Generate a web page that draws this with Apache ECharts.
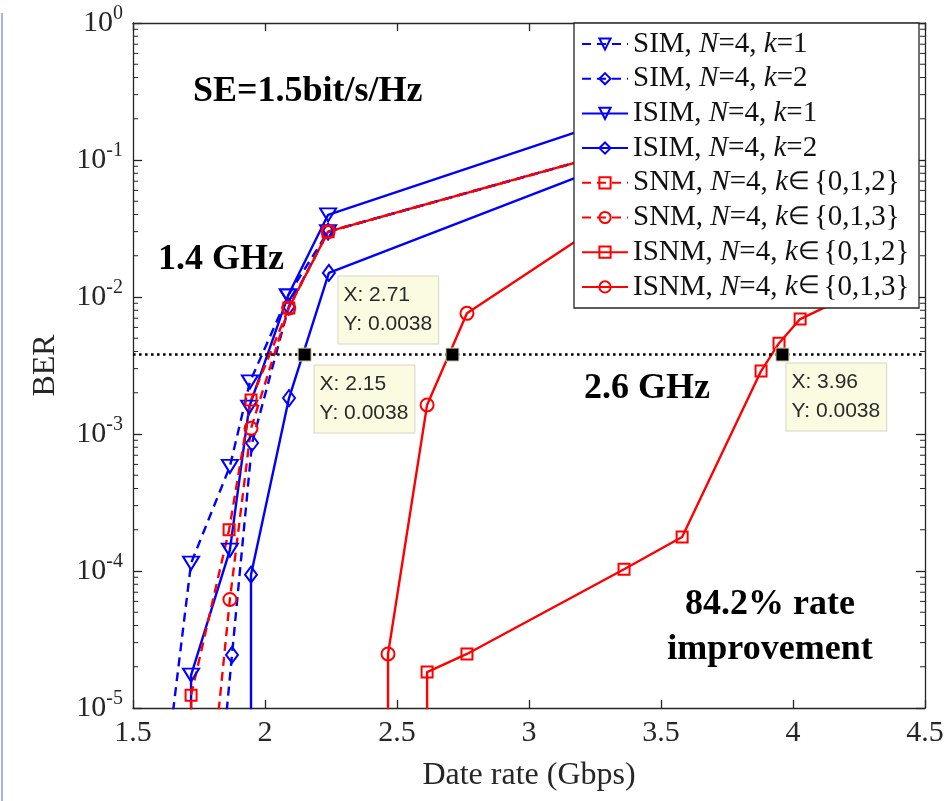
<!DOCTYPE html>
<html>
<head>
<meta charset="utf-8">
<script src="https://cdn.jsdelivr.net/npm/echarts@6/dist/echarts.min.js"></script>
<style>
  html, body { margin: 0; padding: 0; background: #fff; }
  #chart { width: 948px; height: 801px; }
</style>
</head>
<body>
<div id="chart"></div>
<script>
// data rate (Gbps) / BER
// points below 1e-5 or under the legend only give the line its direction
var simK1X = [1.59, 1.72, 1.867, 1.943, 2.087, 2.239, 3.5];
var simK1Y = [1e-6, 1.14e-4, 5.8e-4, 2.4e-3, 1.02e-2, 0.03, 0.143];

var simK2X = [1.807, 1.875, 1.951, 2.09, 2.239, 3.5];
var simK2Y = [1e-6, 2.44e-5, 8.6e-4, 8.5e-3, 0.03, 0.143];

var isimK1X = [1.72, 1.72, 1.867, 1.94, 2.087, 2.239, 3.5];
var isimK1Y = [1e-6, 1.74e-5, 1.42e-4, 1.57e-3, 1.02e-2, 0.0398, 0.257];

var isimK2X = [1.947, 1.947, 2.091, 2.242, 3.5];
var isimK2Y = [1e-6, 9.4e-5, 1.83e-3, 0.015, 0.129];

var snm012X = [1.72, 1.72, 1.864, 1.947, 2.09, 2.239, 3.5];
var snm012Y = [1e-6, 1.24e-5, 2.0e-4, 1.77e-3, 8.3e-3, 0.03, 0.143];

var snm013X = [1.773, 1.867, 1.947, 2.09, 2.239, 3.5];
var snm013Y = [1e-6, 6.2e-5, 1.1e-3, 8.3e-3, 0.03, 0.143];

var isnm012X = [2.614, 2.614, 2.765, 3.36, 3.58, 3.879, 3.947, 4.027, 4.4];
var isnm012Y = [1e-6, 1.83e-5, 2.48e-5, 1.03e-4, 1.77e-4, 2.88e-3, 4.6e-3, 6.9e-3, 0.0152];

var isnm013X = [2.466, 2.466, 2.614, 2.765, 3.5];
var isnm013Y = [1e-6, 2.48e-5, 1.63e-3, 7.6e-3, 0.066];

// data tips on the BER limit
var limitBer = 0.0038;
var tipX = [2.15, 2.71, 3.96];

var xTicks = [1.5, 2, 2.5, 3, 3.5, 4, 4.5];
var decades = [-5, -4, -3, -2, -1];
var minorMantissas = [2, 3, 4, 5, 6, 7, 8, 9];

var serif = '"Liberation Serif", "Times New Roman", serif';
var sans = '"Liberation Sans", Arial, sans-serif';
var axisColor = '#262626';
var blue = '#0000ff';
var red = '#ff0000';

function pairs(xs, ys) {
  return xs.map(function (x, i) { return [x, ys[i]]; });
}

function curve(name, xs, ys, color, dashed, symbol) {
  var s = {
    name: name,
    type: 'line',
    data: pairs(xs, ys),
    clip: true,
    z: 3,
    symbol: symbol,
    symbolSize: 12,
    showAllSymbol: true,
    lineStyle: { color: color, width: 2.4, type: dashed ? [9, 6] : 'solid' },
    itemStyle: { color: 'rgba(255,255,255,0)', borderColor: color, borderWidth: 2 },
    emphasis: { disabled: true }
  };
  if (symbol === 'triangle') { s.symbolRotate = 180; s.symbolSize = [16, 13]; }
  if (symbol === 'diamond') { s.symbolSize = [12, 16]; }
  if (symbol === 'rect') { s.symbolSize = 11; }
  if (symbol === 'circle') { s.symbolSize = 13; }
  return s;
}

var names = [
  'SIM, N=4, k=1', 'SIM, N=4, k=2', 'ISIM, N=4, k=1', 'ISIM, N=4, k=2',
  'SNM, N=4, k∈{0,1,2}', 'SNM, N=4, k∈{0,1,3}', 'ISNM, N=4, k∈{0,1,2}', 'ISNM, N=4, k∈{0,1,3}'
];

function legendText(name) {
  return name.replace('N=', '{i|N}=').replace('k=', '{i|k}=').replace('k∈', '{i|k}{e|∈}');
}

var minorTicks = [];
decades.forEach(function (e) {
  minorMantissas.forEach(function (m) { minorTicks.push(m * Math.pow(10, e)); });
});

// offsets of the data-tip boxes from the black markers
var tipOffsets = [[17, 18], [-107, -71], [11, 16]];

var chart = echarts.init(document.getElementById('chart'));

var option = {
  animation: false,
  grid: { left: 133, top: 23, right: 23, bottom: 93, containLabel: false },
  xAxis: [{
    type: 'value',
    min: 1.5, max: 4.5, interval: 0.5,
    name: 'Date rate (Gbps)',
    nameLocation: 'middle',
    nameGap: 52,
    nameTextStyle: { fontFamily: serif, fontSize: 32, color: axisColor },
    axisLine: { show: true, lineStyle: { color: axisColor, width: 1.3 } },
    axisTick: { show: true, inside: true, length: 8, lineStyle: { color: axisColor, width: 1.3 } },
    axisLabel: {
      fontFamily: serif, fontSize: 30, color: axisColor, margin: 10,
      showMinLabel: true, showMaxLabel: true,
      formatter: function (v) { return xTicks.indexOf(v) >= 0 ? String(v) : ''; }
    },
    splitLine: { show: false }
  }, {
    type: 'value', position: 'top',
    min: 1.5, max: 4.5, interval: 0.5,
    axisLine: { show: true, lineStyle: { color: axisColor, width: 1.3 } },
    axisTick: { show: true, inside: true, length: 8, lineStyle: { color: axisColor, width: 1.3 } },
    axisLabel: { show: false },
    splitLine: { show: false }
  }],
  yAxis: [{
    type: 'log', logBase: 10,
    min: 1e-5, max: 1,
    name: 'BER',
    nameLocation: 'middle',
    nameGap: 71,
    nameRotate: 90,
    nameTextStyle: { fontFamily: serif, fontSize: 32, color: axisColor },
    axisLine: { show: true, lineStyle: { color: axisColor, width: 1.3 } },
    axisTick: { show: true, inside: true, length: 9, lineStyle: { color: axisColor, width: 1.3 } },
    axisLabel: {
      margin: 10,
      formatter: function (v) {
        var e = Math.round(Math.log(v) / Math.LN10);
        return '{b|10}{sup|' + e + '}';
      },
      rich: {
        b: { fontFamily: serif, fontSize: 30, color: axisColor, lineHeight: 38 },
        sup: { fontFamily: serif, fontSize: 20, color: axisColor, lineHeight: 22, verticalAlign: 'top' }
      }
    },
    splitLine: { show: false }
  }, {
    type: 'log', logBase: 10, position: 'right',
    min: 1e-5, max: 1,
    axisLine: { show: true, lineStyle: { color: axisColor, width: 1.3 } },
    axisTick: { show: true, inside: true, length: 9, lineStyle: { color: axisColor, width: 1.3 } },
    axisLabel: { show: false },
    splitLine: { show: false }
  }],
  legend: {
    data: names,
    orient: 'vertical',
    left: 581, top: 29,
    itemWidth: 46, itemHeight: 14, itemGap: 4.7,
    padding: 0,
    z: 20,
    selectedMode: false,
    textStyle: {
      fontFamily: serif, fontSize: 29, color: '#111', lineHeight: 30,
      rich: {
        i: { fontFamily: serif, fontSize: 29, fontStyle: 'italic', color: '#111', lineHeight: 30 },
        e: { fontFamily: serif, fontSize: 25, color: '#111', lineHeight: 30, padding: [0, 4, 0, 0] }
      }
    },
    formatter: legendText
  },
  graphic: [
    { type: 'line', z: 1, shape: { x1: 2, y1: 13, x2: 2, y2: 801 }, style: { stroke: '#aab0ee', lineWidth: 2 } },
    { type: 'rect', z: 10, shape: { x: 574, y: 23, width: 345, height: 285 },
      style: { fill: '#fff', stroke: axisColor, lineWidth: 1.3 } },
    { type: 'text', z: 12, x: 193, y: 92,
      style: { text: 'SE=1.5bit/s/Hz', font: 'bold 36px ' + serif, fill: '#000', verticalAlign: 'middle' } },
    { type: 'text', z: 12, x: 158, y: 260,
      style: { text: '1.4 GHz', font: 'bold 36px ' + serif, fill: '#000', verticalAlign: 'middle' } },
    { type: 'text', z: 12, x: 584, y: 389,
      style: { text: '2.6 GHz', font: 'bold 36px ' + serif, fill: '#000', verticalAlign: 'middle' } },
    { type: 'text', z: 12, x: 770, y: 605,
      style: { text: '84.2% rate', font: 'bold 36px ' + serif, fill: '#000', align: 'center', verticalAlign: 'middle' } },
    { type: 'text', z: 12, x: 770, y: 650,
      style: { text: 'improvement', font: 'bold 36px ' + serif, fill: '#000', align: 'center', verticalAlign: 'middle' } }
  ],
  series: [
    curve(names[0], simK1X, simK1Y, blue, true, 'triangle'),
    curve(names[1], simK2X, simK2Y, blue, true, 'diamond'),
    curve(names[2], isimK1X, isimK1Y, blue, false, 'triangle'),
    curve(names[3], isimK2X, isimK2Y, blue, false, 'diamond'),
    curve(names[4], snm012X, snm012Y, red, true, 'rect'),
    curve(names[5], snm013X, snm013Y, red, true, 'circle'),
    curve(names[6], isnm012X, isnm012Y, red, false, 'rect'),
    curve(names[7], isnm013X, isnm013Y, red, false, 'circle'),
    {
      // BER limit
      type: 'line',
      data: [[1.5, limitBer], [4.5, limitBer]],
      symbol: 'none',
      z: 4,
      lineStyle: { color: '#000', width: 2.6, type: [2.6, 3.4] },
      emphasis: { disabled: true },
      silent: true
    },
    {
      type: 'scatter',
      z: 6,
      symbol: 'rect',
      symbolSize: 13,
      itemStyle: { color: '#000', opacity: 1, borderColor: '#d8d8a8', borderWidth: 1 },
      emphasis: { disabled: true },
      data: tipX.map(function (x, i) {
        return {
          value: [x, limitBer],
          label: { position: tipOffsets[i] }
        };
      }),
      label: {
        show: true,
        fontFamily: sans, fontSize: 21, lineHeight: 29, color: '#2a2a2a',
        backgroundColor: '#fbfbe2', borderColor: '#d6d6c4', borderWidth: 1,
        padding: [4, 6, 5, 5], align: 'left', verticalAlign: 'top',
        formatter: function (p) { return 'X: ' + p.value[0] + '\nY: ' + p.value[1]; }
      }
    },
    {
      // minor ticks of the log axis, on both sides of the box
      type: 'custom',
      silent: true,
      z: 5,
      data: minorTicks.map(function (v) { return [1.5, v]; }),
      renderItem: function (params, api) {
        var v = api.value(1);
        var l = api.coord([1.5, v]);
        var r = api.coord([4.5, v]);
        return {
          type: 'group',
          children: [
            { type: 'line', shape: { x1: l[0], y1: l[1], x2: l[0] + 5, y2: l[1] }, style: { stroke: axisColor, lineWidth: 1 } },
            { type: 'line', shape: { x1: r[0], y1: r[1], x2: r[0] - 5, y2: r[1] }, style: { stroke: axisColor, lineWidth: 1 } }
          ]
        };
      }
    }
  ]
};

chart.setOption(option);
</script>
</body>
</html>
